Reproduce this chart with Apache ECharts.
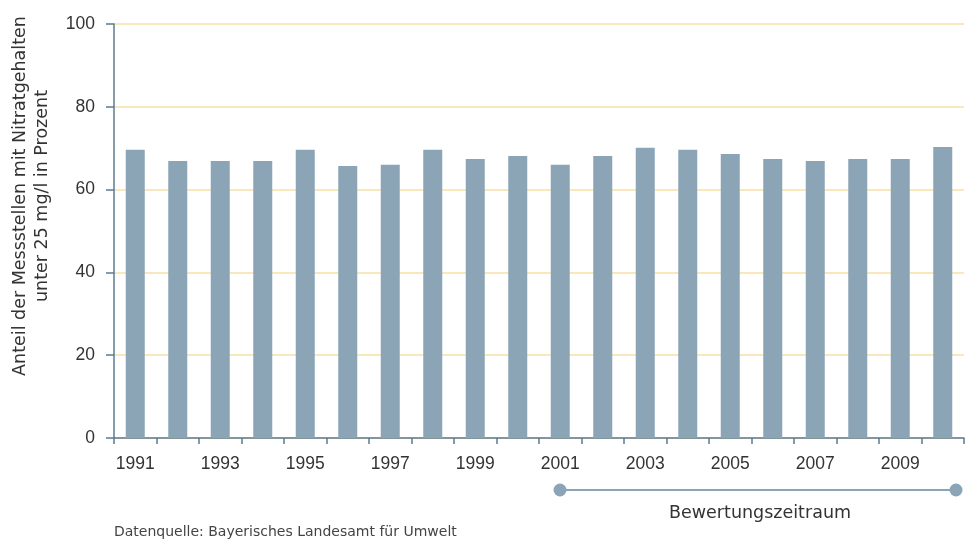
<!DOCTYPE html>
<html><head><meta charset="utf-8">
<script src="https://cdn.jsdelivr.net/npm/echarts@6/dist/echarts.min.js"></script>
<style>html,body{margin:0;padding:0;background:#fff}#c{width:973px;height:540px}</style>
</head><body><div id="c"></div>
<script>
const years = ['1991','1992','1993','1994','1995','1996','1997','1998','1999','2000','2001','2002','2003','2004','2005','2006','2007','2008','2009','2010'];
const values = [69.6,66.9,66.9,66.9,69.6,65.7,66,69.6,67.4,68.1,66,68.1,70.1,69.6,68.6,67.4,66.9,67.4,67.4,70.3];
const yTicks = [0,20,40,60,80,100];
const yAxisTitle = 'Anteil der Messstellen mit Nitratgehalten\nunter 25 mg/l in Prozent';
const periodLabel = 'Bewertungszeitraum';
const sourceLabel = 'Datenquelle: Bayerisches Landesamt für Umwelt';

const font = '"DejaVu Sans", "Liberation Sans", Arial, sans-serif';
const numFont = '"Liberation Sans", Arial, sans-serif';
const chart = echarts.init(document.getElementById('c'), null, {renderer:'canvas'});
chart.setOption({
  animation:false,
  grid:{left:114,right:9,top:24,bottom:102},
  xAxis:{type:'category',data:years,boundaryGap:true,
    axisLine:{lineStyle:{color:'#5b7b90',width:1.5}},
    axisTick:{show:true,interval:0,length:6,lineStyle:{color:'#5b7b90',width:1.5}},
    axisLabel:{interval:1,color:'#333',fontSize:17.5,fontFamily:numFont,margin:17}},
  yAxis:{type:'value',min:yTicks[0],max:yTicks[yTicks.length-1],interval:20,
    axisLine:{show:true,lineStyle:{color:'#5b7b90',width:1.5}},
    axisTick:{show:true,length:8,lineStyle:{color:'#5b7b90',width:1.5}},
    axisLabel:{color:'#333',fontSize:17.5,fontFamily:numFont,margin:19},
    splitLine:{lineStyle:{color:'#f7e0a6',width:1.5}}},
  series:[{type:'bar',data:values,barWidth:19,itemStyle:{color:'#8ba5b6'}}],
  graphic:[
    {type:'text',x:31,y:196,rotation:Math.PI/2,
      style:{text:yAxisTitle,fill:'#333',font:'17.5px '+font,textAlign:'center',textVerticalAlign:'middle',lineHeight:22}},
    {type:'line',shape:{x1:560,y1:490,x2:956,y2:490},style:{stroke:'#8ba5b6',lineWidth:2}},
    {type:'circle',shape:{cx:560,cy:490,r:6.5},style:{fill:'#8ba5b6'}},
    {type:'circle',shape:{cx:956,cy:490,r:6.5},style:{fill:'#8ba5b6'}},
    {type:'text',x:760,y:513,style:{text:periodLabel,fill:'#333',font:'17.5px '+font,textAlign:'center',textVerticalAlign:'middle'}},
    {type:'text',x:114,y:532,style:{text:sourceLabel,fill:'#444',font:'14px '+font,textAlign:'left',textVerticalAlign:'middle'}}
  ]
});
</script></body></html>
